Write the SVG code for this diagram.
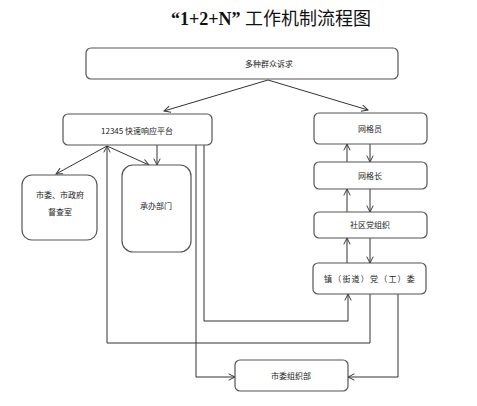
<svg xmlns="http://www.w3.org/2000/svg" width="477" height="406" viewBox="0 0 477 406">
<style>
.box{fill:#fff;stroke:#555;stroke-width:1.2}
.lbl{font-family:"Noto Sans CJK SC","Liberation Sans",sans-serif;font-size:8px;fill:#222;text-anchor:middle}
.ln{fill:none;stroke:#333;stroke-width:1}
</style>
<defs>
<marker id="ar" viewBox="0 0 10 10" refX="9" refY="5" markerWidth="8" markerHeight="8" orient="auto" markerUnits="userSpaceOnUse">
<path d="M1,1 L9,5 L1,9" fill="none" stroke="#333" stroke-width="1.2"/>
</marker>
</defs>
<rect width="477" height="406" fill="#fff"/>
<text x="271" y="25" text-anchor="middle" font-family="'Liberation Serif','Noto Sans CJK SC',serif" font-size="18" fill="#111"><tspan font-weight="bold">“1+2+N” </tspan><tspan>工作机制流程图</tspan></text>
<g id="connectors">
<path class="ln" d="M268,80 L164,111" marker-end="url(#ar)"/>
<path class="ln" d="M268,80 L368,110" marker-end="url(#ar)"/>
<path class="ln" d="M107,146 L56,174" marker-end="url(#ar)"/>
<path class="ln" d="M107,146 L149,165" marker-end="url(#ar)"/>
<path class="ln" d="M157,145 L157,165" marker-end="url(#ar)"/>
<path class="ln" d="M370,294 L370,343 L107,343 L107,146" marker-end="url(#ar)"/>
<path class="ln" d="M196,145 L196,377 L235,377" marker-end="url(#ar)"/>
<path class="ln" d="M204,145 L204,321 L348,321 L348,294" marker-end="url(#ar)"/>
<path class="ln" d="M398,294 L398,377 L348,377" marker-end="url(#ar)"/>
<path class="ln" d="M347,162 L347,144" marker-end="url(#ar)"/>
<path class="ln" d="M370,144 L370,162" marker-end="url(#ar)"/>
<path class="ln" d="M347,212 L347,189" marker-end="url(#ar)"/>
<path class="ln" d="M370,189 L370,212" marker-end="url(#ar)"/>
<path class="ln" d="M347,263 L347,238" marker-end="url(#ar)"/>
<path class="ln" d="M370,238 L370,263" marker-end="url(#ar)"/>
</g>
<g id="n-top"><rect class="box" x="86" y="48" width="312" height="31" rx="5"/><text class="lbl" x="269" y="67">多种群众诉求</text></g>
<g id="n-12345"><rect class="box" x="63" y="114" width="149" height="31" rx="5"/><text class="lbl" x="137" y="134">12345 快速响应平台</text></g>
<g id="n-wgy"><rect class="box" x="314" y="113" width="113" height="31" rx="5"/><text class="lbl" x="370" y="132">网格员</text></g>
<g id="n-wgz"><rect class="box" x="314" y="162" width="113" height="27" rx="5"/><text class="lbl" x="370" y="179">网格长</text></g>
<g id="n-sq"><rect class="box" x="314" y="212" width="113" height="26" rx="5"/><text class="lbl" x="370" y="228">社区党组织</text></g>
<g id="n-zhen"><rect class="box" x="313" y="263" width="113" height="31" rx="5"/><text class="lbl" x="370" y="282" letter-spacing="1.2">镇（街道）党（工）委</text></g>
<g id="n-dcs"><rect class="box" x="22" y="175" width="75" height="65" rx="10"/><text class="lbl" x="60" y="198">市委、市政府</text><text class="lbl" x="60" y="215">督查室</text></g>
<g id="n-cb"><rect class="box" x="122" y="165" width="69" height="87" rx="11"/><text class="lbl" x="156" y="209">承办部门</text></g>
<g id="n-zzb"><rect class="box" x="235" y="360" width="113" height="31" rx="5"/><text class="lbl" x="291" y="379">市委组织部</text></g>
</svg>
